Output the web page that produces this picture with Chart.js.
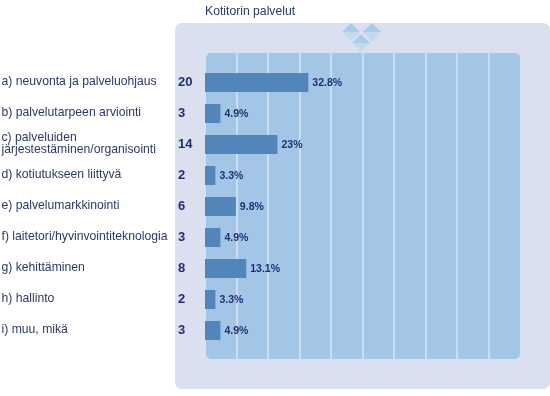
<!DOCTYPE html>
<html>
<head>
<meta charset="utf-8">
<title>Kotitorin palvelut</title>
<script src="https://cdn.jsdelivr.net/npm/chart.js@4"></script>
<style>
  html, body { margin: 0; padding: 0; background: #fff; }
  #wrap { width: 550px; height: 396px; }
</style>
</head>
<body>
<div id="wrap"><canvas id="chart" width="550" height="396"></canvas></div>
<script>
const chartTitle = 'Kotitorin palvelut';
const categories = [
  'a) neuvonta ja palveluohjaus',
  'b) palvelutarpeen arviointi',
  ['c) palveluiden', 'järjestestäminen/organisointi'],
  'd) kotiutukseen liittyvä',
  'e) palvelumarkkinointi',
  'f) laitetori/hyvinvointiteknologia',
  'g) kehittäminen',
  'h) hallinto',
  'i) muu, mikä'
];
const counts = [20, 3, 14, 2, 6, 3, 8, 2, 3];
const percents = [32.8, 4.9, 23, 3.3, 9.8, 4.9, 13.1, 3.3, 4.9];
const percentTicks = [10, 20, 30, 40, 50, 60, 70, 80, 90];

const NAVY = '#1f2f75';
const TEXT = '#2b3a63';

function diamond(ctx, cx, cy, r) {
  // upper half darker, lower half lighter
  ctx.fillStyle = '#a9cde8';
  ctx.beginPath();
  ctx.moveTo(cx - r, cy); ctx.lineTo(cx, cy - r); ctx.lineTo(cx + r, cy);
  ctx.closePath(); ctx.fill();
  ctx.fillStyle = '#c2daee';
  ctx.beginPath();
  ctx.moveTo(cx - r, cy); ctx.lineTo(cx, cy + r); ctx.lineTo(cx + r, cy);
  ctx.closePath(); ctx.fill();
}

// panels, gridlines and the diamond logo behind the bars
const backdrop = {
  id: 'backdrop',
  beforeDatasetsDraw(chart) {
    const { ctx, scales } = chart;
    ctx.save();
    ctx.fillStyle = '#dae0ef';
    ctx.beginPath();
    ctx.roundRect(175, 23, 375, 366, 7);
    ctx.fill();
    ctx.fillStyle = '#a3c6e6';
    ctx.beginPath();
    ctx.roundRect(206, 53, 314, 306, 5);
    ctx.fill();
    ctx.strokeStyle = '#cbddf2';
    ctx.lineWidth = 2;
    percentTicks.forEach(function(t) {
      const x = Math.round(scales.x.getPixelForValue(t));
      ctx.beginPath();
      ctx.moveTo(x, 53);
      ctx.lineTo(x, 359);
      ctx.stroke();
    });
    diamond(ctx, 351, 32, 9);
    diamond(ctx, 372, 32, 9);
    diamond(ctx, 361, 43, 9);
    ctx.restore();
  },
  afterDatasetsDraw(chart) {
    const { ctx } = chart;
    const bars = chart.getDatasetMeta(0).data;
    ctx.save();
    ctx.textBaseline = 'middle';
    bars.forEach(function(bar, i) {
      ctx.fillStyle = NAVY;
      ctx.textAlign = 'left';
      ctx.font = 'bold 13px "Liberation Sans"';
      ctx.fillText(String(counts[i]), 178, bar.y);
      ctx.font = 'bold 10.5px "Liberation Sans"';
      ctx.fillText(percents[i] + '%', bar.x + 4, bar.y + 1);
    });
    ctx.restore();
  }
};

new Chart(document.getElementById('chart'), {
  type: 'bar',
  data: {
    labels: categories,
    datasets: [{
      data: percents,
      backgroundColor: '#5286bb',
      categoryPercentage: 1,
      barPercentage: 19 / 31
    }]
  },
  options: {
    indexAxis: 'y',
    responsive: false,
    animation: false,
    layout: { padding: { left: 1.5, right: 30, top: 4, bottom: 50 } },
    plugins: {
      legend: { display: false },
      tooltip: { enabled: false },
      title: {
        display: true,
        text: chartTitle,
        align: 'start',
        fullSize: false,
        color: TEXT,
        font: { family: 'Liberation Sans', size: 12.2, weight: 'normal', lineHeight: 1.2 },
        padding: { top: 0, bottom: 48.4 }
      }
    },
    scales: {
      x: { display: false, min: 0, max: 100 },
      y: {
        grid: { display: false },
        border: { display: false },
        afterFit(scale) { scale.width = 203.5; },
        ticks: {
          crossAlign: 'far',
          color: TEXT,
          padding: 0,
          labelOffset: -0.5,
          autoSkip: false,
          font: { family: 'Liberation Sans', size: 12.2, lineHeight: 1 }
        }
      }
    }
  },
  plugins: [backdrop]
});
</script>
</body>
</html>
